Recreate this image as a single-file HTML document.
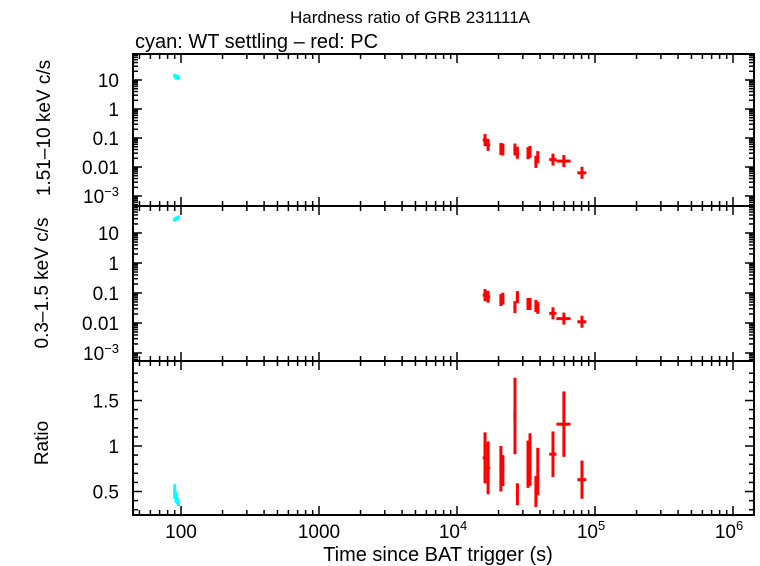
<!DOCTYPE html>
<html><head><meta charset="utf-8"><style>
body{margin:0;background:#fff;}
svg{display:block;font-family:"Liberation Sans",sans-serif;}
</style></head><body>
<svg id="c" width="760" height="566"></svg>
<script>
const times=[15960,16800,20800,21500,26300,27400,32700,33800,37300,38500,49600,59500,80500];
const xerrLo=[600,600,500,500,700,700,800,800,900,900,3000,7000,6000];
const hardVals=[0.085,0.058,0.042,0.040,0.040,0.031,0.030,0.033,0.015,0.022,0.018,0.016,0.0063];
const softVals=[0.085,0.075,0.058,0.065,0.034,0.073,0.043,0.043,0.037,0.032,0.021,0.014,0.011];
const ratioVals=[0.87,0.76,0.75,0.73,1.33,0.47,0.80,0.85,0.50,0.72,0.91,1.24,0.63];
const ratioErr=[0.28,0.29,0.25,0.17,0.42,0.12,0.26,0.29,0.17,0.26,0.25,0.36,0.21];
const cyanTimes=[90,92,94,96];
const cyanHard=[14,12,13,12];
const cyanSoft=[28,30,31,33];
const cyanRatio=[0.50,0.44,0.40,0.37];
const cyanRatioErr=[0.08,0.06,0.04,0.03];

const NS="http://www.w3.org/2000/svg";
const svg=document.getElementById('c');
function el(tag,attrs,parent){const e=document.createElementNS(NS,tag);for(const k in attrs)e.setAttribute(k,attrs[k]);(parent||svg).appendChild(e);return e;}
const L=133,R=754;
const X=t=>181+138*(Math.log10(t)-2);
const P=[{top:54,bot:206,y:v=>80-29*(Math.log10(v)-1)},{top:206,bot:361,y:v=>233-30*(Math.log10(v)-1)},{top:361,bot:515,y:v=>446-91*(v-1)}];

function txt(x,y,s,anchor,name,size,parent){const t=el('text',{x:x,y:y,'text-anchor':anchor||'middle','font-size':size||16,fill:'#000'},parent);t.textContent=s;return t;}

txt(410,23,'Hardness ratio of GRB 231111A','middle','chart-title',17);
txt(135,48,'cyan: WT settling \u2013 red: PC','start','chart-subtitle',20);

function xTicks(p){
 for(let d=1;d<=6;d++){for(let m=1;m<10;m++){const t=m*Math.pow(10,d);const x=X(t);if(x<L||x>R)continue;const len=m===1?9:5;
  el('line',{x1:x,y1:p.bot,x2:x,y2:p.bot-len,stroke:'#000','stroke-width':1.5});
  el('line',{x1:x,y1:p.top,x2:x,y2:p.top+len,stroke:'#000','stroke-width':1.5});}}
}
P.forEach((p,i)=>{
 const g=el('rect',{x:L,y:p.top,width:R-L,height:p.bot-p.top,fill:'none',stroke:'#000','stroke-width':2});
 
 xTicks(p);
});
[0,1].forEach(i=>{const p=P[i];
 for(let d=-4;d<=2;d++){for(let m=1;m<10;m++){const v=m*Math.pow(10,d);const y=p.y(v);if(y<p.top||y>p.bot)continue;const len=m===1?9:5;
  el('line',{x1:L,y1:y,x2:L+len,y2:y,stroke:'#000','stroke-width':1.5});el('line',{x1:R,y1:y,x2:R-len,y2:y,stroke:'#000','stroke-width':1.5});}}
 const labs=[['10',10],['1',1],['0.1',0.1],['0.01',0.01]];
 labs.forEach(l=>txt(119,p.y(l[1])+7,l[0],'end','y-tick-label',19));
 const t=txt(119,p.y(0.001)+7,'10','end','y-tick-label',19);
 const s=el('tspan',{dy:-7,'font-size':13});s.textContent='\u22123';t.appendChild(s);
});
{const p=P[2];for(let v=0.3;v<=1.9;v+=0.1){const y=p.y(v);if(y<p.top||y>p.bot)continue;const major=Math.abs(v*2-Math.round(v*2))<1e-6;const len=major?9:5;
 el('line',{x1:L,y1:y,x2:L+len,y2:y,stroke:'#000','stroke-width':1.5});el('line',{x1:R,y1:y,x2:R-len,y2:y,stroke:'#000','stroke-width':1.5});}
 [['1.5',1.5],['1',1],['0.5',0.5]].forEach(l=>txt(119,p.y(l[1])+7,l[0],'end','y-tick-label',19));}
[['100',100],['1000',1000]].forEach(l=>txt(X(l[1]),538,l[0],'middle','x-tick-label',19));
[4,5,6].forEach(d=>{const t=txt(X(Math.pow(10,d))-4,538,'10','middle','x-tick-label',19);const s=el('tspan',{dy:-8,'font-size':13});s.textContent=String(d);t.appendChild(s);});
txt(438,561,'Time since BAT trigger (s)','middle','x-axis-title',20);
function ytitle(x,y,s,name){const t=txt(0,0,s,'middle',name,19);t.setAttribute('transform','translate('+x+','+y+') rotate(-90)');}
ytitle(50,128,'1.51\u201310 keV c/s','y-axis-title-hard');
ytitle(48,283,'0.3\u20131.5 keV c/s','y-axis-title-soft');
ytitle(48,443,'Ratio','y-axis-title-ratio');

function mark(x,y,ylo,yhi,xlo,xhi,color,name){
 const g=el('g',{stroke:color,'stroke-width':3});
 
 el('line',{x1:x,y1:ylo,x2:x,y2:yhi},g);
 el('line',{x1:xlo,y1:y,x2:xhi,y2:y},g);
}
times.forEach((t,i)=>{
 const x=X(t),xl=X(t-xerrLo[i]),xh=X(t+xerrLo[i]);
 let y=P[0].y(hardVals[i]);mark(x,y,y-6,y+6,xl,xh,'#f00','hard-point');
 y=P[1].y(softVals[i]);mark(x,y,y-6,y+6,xl,xh,'#f00','soft-point');
 y=P[2].y(ratioVals[i]);mark(x,y,P[2].y(ratioVals[i]+ratioErr[i]),P[2].y(ratioVals[i]-ratioErr[i]),xl,xh,'#f00','ratio-point');
});
cyanTimes.forEach((t,i)=>{
 const x=X(t);
 let y=P[0].y(cyanHard[i]);mark(x,y,y-2,y+2,x-1,x+1,'#0ff','hard-point-wt');
 y=P[1].y(cyanSoft[i]);mark(x,y,y-2,y+2,x-1,x+1,'#0ff','soft-point-wt');
 y=P[2].y(cyanRatio[i]);mark(x,y,P[2].y(cyanRatio[i]+cyanRatioErr[i]),P[2].y(cyanRatio[i]-cyanRatioErr[i]),x-1,x+1,'#0ff','ratio-point-wt');
});
</script>
</body></html>
